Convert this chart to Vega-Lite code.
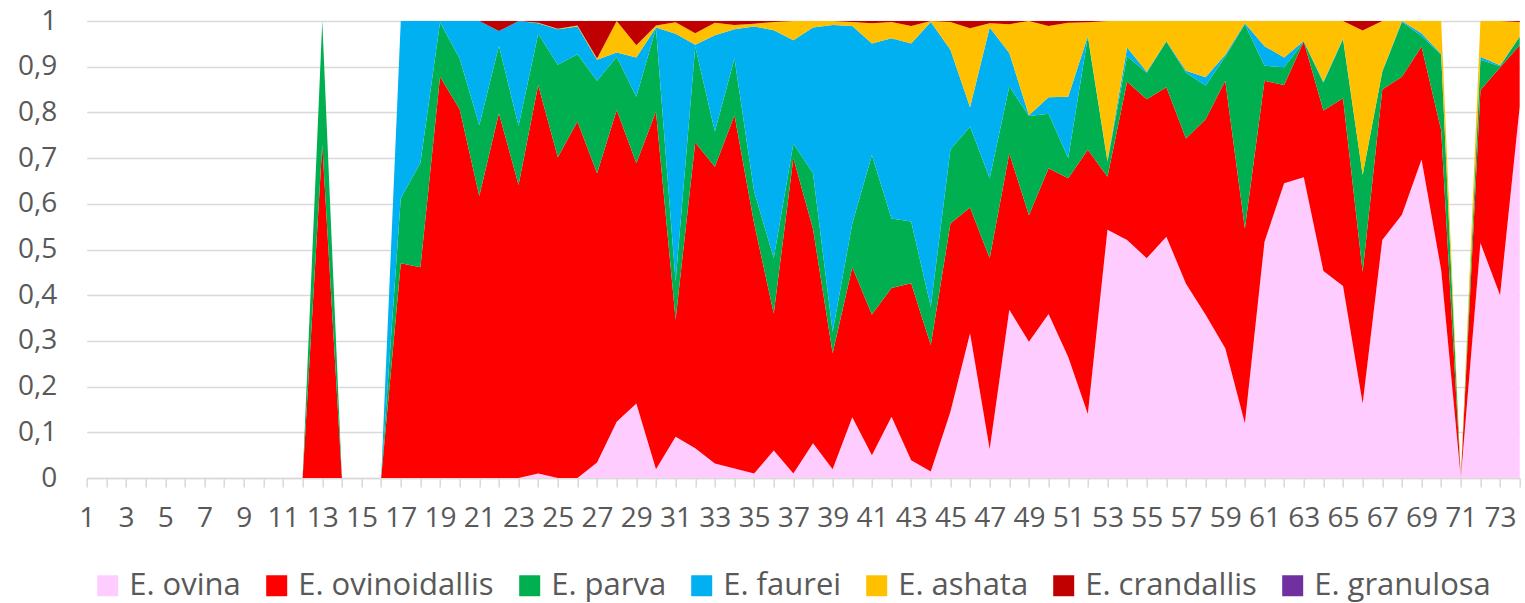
{
  "$schema": "https://vega.github.io/schema/vega-lite/v6.json",
  "width": 1433,
  "height": 457,
  "autosize": {"type": "none"},
  "padding": {"left": 86.7, "top": 21, "right": 5.3, "bottom": 125},
  "background": "white",
  "datasets": {
    "species": [
      {"key": "a", "sp": "E. ovina", "k": 1},
      {"key": "b", "sp": "E. ovinoidallis", "k": 2},
      {"key": "c", "sp": "E. parva", "k": 3},
      {"key": "d", "sp": "E. faurei", "k": 4},
      {"key": "e", "sp": "E. ashata", "k": 5},
      {"key": "f", "sp": "E. crandallis", "k": 6},
      {"key": "g", "sp": "E. granulosa", "k": 7}
    ],
    "rows": [
      {"x": 1, "a": 0, "b": 0, "c": 0, "d": 0, "e": 0, "f": 0, "g": 0},
      {"x": 2, "a": 0, "b": 0, "c": 0, "d": 0, "e": 0, "f": 0, "g": 0},
      {"x": 3, "a": 0, "b": 0, "c": 0, "d": 0, "e": 0, "f": 0, "g": 0},
      {"x": 4, "a": 0, "b": 0, "c": 0, "d": 0, "e": 0, "f": 0, "g": 0},
      {"x": 5, "a": 0, "b": 0, "c": 0, "d": 0, "e": 0, "f": 0, "g": 0},
      {"x": 6, "a": 0, "b": 0, "c": 0, "d": 0, "e": 0, "f": 0, "g": 0},
      {"x": 7, "a": 0, "b": 0, "c": 0, "d": 0, "e": 0, "f": 0, "g": 0},
      {"x": 8, "a": 0, "b": 0, "c": 0, "d": 0, "e": 0, "f": 0, "g": 0},
      {"x": 9, "a": 0, "b": 0, "c": 0, "d": 0, "e": 0, "f": 0, "g": 0},
      {"x": 10, "a": 0, "b": 0, "c": 0, "d": 0, "e": 0, "f": 0, "g": 0},
      {"x": 11, "a": 0, "b": 0, "c": 0, "d": 0, "e": 0, "f": 0, "g": 0},
      {"x": 12, "a": 0, "b": 0, "c": 0, "d": 0, "e": 0, "f": 0, "g": 0},
      {"x": 13, "a": 0, "b": 0.73, "c": 0.27, "d": 0, "e": 0, "f": 0, "g": 0},
      {"x": 14, "a": 0, "b": 0, "c": 0, "d": 0, "e": 0, "f": 0, "g": 0},
      {"x": 15, "a": 0, "b": 0, "c": 0, "d": 0, "e": 0, "f": 0, "g": 0},
      {"x": 16, "a": 0, "b": 0, "c": 0, "d": 0, "e": 0, "f": 0, "g": 0},
      {"x": 17, "a": 0, "b": 0.47, "c": 0.142, "d": 0.388, "e": 0, "f": 0, "g": 0},
      {"x": 18, "a": 0, "b": 0.461, "c": 0.229, "d": 0.31, "e": 0, "f": 0, "g": 0},
      {"x": 19, "a": 0, "b": 0.878, "c": 0.119, "d": 0.003, "e": 0, "f": 0, "g": 0},
      {"x": 20, "a": 0, "b": 0.807, "c": 0.111, "d": 0.082, "e": 0, "f": 0, "g": 0},
      {"x": 21, "a": 0, "b": 0.617, "c": 0.155, "d": 0.228, "e": 0, "f": 0, "g": 0},
      {"x": 22, "a": 0, "b": 0.798, "c": 0.148, "d": 0.032, "e": 0, "f": 0.022, "g": 0},
      {"x": 23, "a": 0, "b": 0.641, "c": 0.129, "d": 0.23, "e": 0, "f": 0, "g": 0},
      {"x": 24, "a": 0.01, "b": 0.85, "c": 0.112, "d": 0.023, "e": 0.001, "f": 0.004, "g": 0},
      {"x": 25, "a": 0, "b": 0.702, "c": 0.202, "d": 0.078, "e": 0.001, "f": 0.017, "g": 0},
      {"x": 26, "a": 0, "b": 0.78, "c": 0.147, "d": 0.061, "e": 0.002, "f": 0.01, "g": 0},
      {"x": 27, "a": 0.034, "b": 0.633, "c": 0.202, "d": 0.046, "e": 0.003, "f": 0.082, "g": 0},
      {"x": 28, "a": 0.123, "b": 0.682, "c": 0.117, "d": 0.009, "e": 0.069, "f": 0, "g": 0},
      {"x": 29, "a": 0.163, "b": 0.526, "c": 0.145, "d": 0.086, "e": 0.027, "f": 0.053, "g": 0},
      {"x": 30, "a": 0.019, "b": 0.783, "c": 0.182, "d": 0.002, "e": 0.004, "f": 0.01, "g": 0},
      {"x": 31, "a": 0.09, "b": 0.257, "c": 0.083, "d": 0.542, "e": 0.025, "f": 0.003, "g": 0},
      {"x": 32, "a": 0.065, "b": 0.669, "c": 0.21, "d": 0.004, "e": 0.025, "f": 0.027, "g": 0},
      {"x": 33, "a": 0.032, "b": 0.649, "c": 0.077, "d": 0.211, "e": 0.027, "f": 0.004, "g": 0},
      {"x": 34, "a": 0.021, "b": 0.773, "c": 0.124, "d": 0.064, "e": 0.009, "f": 0.009, "g": 0},
      {"x": 35, "a": 0.01, "b": 0.547, "c": 0.07, "d": 0.361, "e": 0.006, "f": 0.006, "g": 0},
      {"x": 36, "a": 0.06, "b": 0.3, "c": 0.121, "d": 0.499, "e": 0.018, "f": 0.002, "g": 0},
      {"x": 37, "a": 0.01, "b": 0.69, "c": 0.032, "d": 0.226, "e": 0.042, "f": 0, "g": 0},
      {"x": 38, "a": 0.076, "b": 0.469, "c": 0.122, "d": 0.319, "e": 0.014, "f": 0, "g": 0},
      {"x": 39, "a": 0.019, "b": 0.254, "c": 0.047, "d": 0.671, "e": 0.009, "f": 0, "g": 0},
      {"x": 40, "a": 0.133, "b": 0.328, "c": 0.096, "d": 0.432, "e": 0.009, "f": 0.002, "g": 0},
      {"x": 41, "a": 0.05, "b": 0.308, "c": 0.349, "d": 0.244, "e": 0.044, "f": 0.005, "g": 0},
      {"x": 42, "a": 0.134, "b": 0.282, "c": 0.152, "d": 0.394, "e": 0.036, "f": 0.002, "g": 0},
      {"x": 43, "a": 0.039, "b": 0.387, "c": 0.135, "d": 0.39, "e": 0.038, "f": 0.011, "g": 0},
      {"x": 44, "a": 0.014, "b": 0.277, "c": 0.084, "d": 0.623, "e": 0.002, "f": 0, "g": 0},
      {"x": 45, "a": 0.145, "b": 0.412, "c": 0.162, "d": 0.218, "e": 0.061, "f": 0.002, "g": 0},
      {"x": 46, "a": 0.317, "b": 0.275, "c": 0.177, "d": 0.042, "e": 0.173, "f": 0.016, "g": 0},
      {"x": 47, "a": 0.063, "b": 0.418, "c": 0.175, "d": 0.33, "e": 0.009, "f": 0.005, "g": 0},
      {"x": 48, "a": 0.368, "b": 0.342, "c": 0.147, "d": 0.073, "e": 0.063, "f": 0.007, "g": 0},
      {"x": 49, "a": 0.298, "b": 0.277, "c": 0.217, "d": 0.002, "e": 0.206, "f": 0, "g": 0},
      {"x": 50, "a": 0.359, "b": 0.319, "c": 0.119, "d": 0.036, "e": 0.156, "f": 0.011, "g": 0},
      {"x": 51, "a": 0.265, "b": 0.391, "c": 0.044, "d": 0.134, "e": 0.162, "f": 0.004, "g": 0},
      {"x": 52, "a": 0.14, "b": 0.578, "c": 0.248, "d": 0.001, "e": 0.03, "f": 0.003, "g": 0},
      {"x": 53, "a": 0.543, "b": 0.116, "c": 0.033, "d": 0.002, "e": 0.306, "f": 0, "g": 0},
      {"x": 54, "a": 0.521, "b": 0.346, "c": 0.056, "d": 0.019, "e": 0.058, "f": 0, "g": 0},
      {"x": 55, "a": 0.481, "b": 0.348, "c": 0.058, "d": 0.002, "e": 0.111, "f": 0, "g": 0},
      {"x": 56, "a": 0.528, "b": 0.327, "c": 0.1, "d": 0.001, "e": 0.044, "f": 0, "g": 0},
      {"x": 57, "a": 0.425, "b": 0.318, "c": 0.144, "d": 0.004, "e": 0.109, "f": 0, "g": 0},
      {"x": 58, "a": 0.357, "b": 0.428, "c": 0.074, "d": 0.018, "e": 0.123, "f": 0, "g": 0},
      {"x": 59, "a": 0.284, "b": 0.585, "c": 0.053, "d": 0.004, "e": 0.074, "f": 0, "g": 0},
      {"x": 60, "a": 0.12, "b": 0.426, "c": 0.447, "d": 0.002, "e": 0.005, "f": 0, "g": 0},
      {"x": 61, "a": 0.517, "b": 0.352, "c": 0.033, "d": 0.043, "e": 0.055, "f": 0, "g": 0},
      {"x": 62, "a": 0.645, "b": 0.215, "c": 0.039, "d": 0.021, "e": 0.08, "f": 0, "g": 0},
      {"x": 63, "a": 0.658, "b": 0.297, "c": 0, "d": 0.001, "e": 0.044, "f": 0, "g": 0},
      {"x": 64, "a": 0.453, "b": 0.351, "c": 0.061, "d": 0.002, "e": 0.133, "f": 0, "g": 0},
      {"x": 65, "a": 0.42, "b": 0.411, "c": 0.129, "d": 0.002, "e": 0.038, "f": 0, "g": 0},
      {"x": 66, "a": 0.163, "b": 0.288, "c": 0.212, "d": 0, "e": 0.316, "f": 0.021, "g": 0},
      {"x": 67, "a": 0.521, "b": 0.329, "c": 0.039, "d": 0.001, "e": 0.11, "f": 0, "g": 0},
      {"x": 68, "a": 0.576, "b": 0.302, "c": 0.12, "d": 0.002, "e": 0, "f": 0, "g": 0},
      {"x": 69, "a": 0.697, "b": 0.247, "c": 0.023, "d": 0.006, "e": 0.027, "f": 0, "g": 0},
      {"x": 70, "a": 0.455, "b": 0.306, "c": 0.165, "d": 0.002, "e": 0.072, "f": 0, "g": 0},
      {"x": 71, "a": 0, "b": 0, "c": 0, "d": 0, "e": 0, "f": 0, "g": 0},
      {"x": 72, "a": 0.514, "b": 0.335, "c": 0.066, "d": 0.007, "e": 0.078, "f": 0, "g": 0},
      {"x": 73, "a": 0.4, "b": 0.498, "c": 0.003, "d": 0.002, "e": 0.097, "f": 0, "g": 0},
      {"x": 74, "a": 0.813, "b": 0.134, "c": 0.019, "d": 0, "e": 0.032, "f": 0.002, "g": 0}
    ]
  },
  "data": {"name": "rows"},
  "transform": [
    {"fold": ["a", "b", "c", "d", "e", "f", "g"], "as": ["key", "v"]},
    {"lookup": "key", "from": {"data": {"name": "species"}, "key": "key", "fields": ["sp", "k"]}}
  ],
  "mark": {"type": "area", "interpolate": "linear", "strokeWidth": 0},
  "encoding": {
    "x": {
      "field": "x", "type": "quantitative",
      "scale": {"domain": [1, 74], "nice": false, "zero": false},
      "axis": {
        "title": null,
        "values": [1,2,3,4,5,6,7,8,9,10,11,12,13,14,15,16,17,18,19,20,21,22,23,24,25,26,27,28,29,30,31,32,33,34,35,36,37,38,39,40,41,42,43,44,45,46,47,48,49,50,51,52,53,54,55,56,57,58,59,60,61,62,63,64,65,66,67,68,69,70,71,72,73,74],
        "labelExpr": "datum.value % 2 == 1 ? datum.label : ''",
        "grid": false,
        "tickSize": 9, "tickWidth": 1.5, "tickColor": "#d9d9d9",
        "domainColor": "#d9d9d9", "domainWidth": 1.5,
        "labelFont": "Open Sans", "labelFontSize": 28, "labelColor": "#595959",
        "labelPadding": 17, "labelOverlap": false, "labelFlush": false
      }
    },
    "y": {
      "field": "v", "type": "quantitative", "stack": "zero",
      "scale": {"domain": [0, 1], "nice": false},
      "axis": {
        "title": null,
        "values": [0, 0.1, 0.2, 0.3, 0.4, 0.5, 0.6, 0.7, 0.8, 0.9, 1],
        "labelExpr": "replace(format(datum.value, '.1~f'), '.', ',')",
        "ticks": false, "domain": false,
        "grid": true, "gridColor": "#d9d9d9", "gridWidth": 1.5,
        "labelFont": "Open Sans", "labelFontSize": 28, "labelColor": "#595959",
        "labelPadding": 30
      }
    },
    "color": {
      "field": "sp", "type": "nominal",
      "scale": {
        "domain": ["E. ovina", "E. ovinoidallis", "E. parva", "E. faurei", "E. ashata", "E. crandallis", "E. granulosa"],
        "range": ["#FFCCFF", "#FF0000", "#00B050", "#00B0F0", "#FFC000", "#C00000", "#7030A0"]
      },
      "legend": {
        "title": null, "orient": "none", "direction": "horizontal",
        "legendX": 5.5, "legendY": 549,
        "symbolType": "square", "symbolSize": 441, "symbolStrokeWidth": 0, "symbolOpacity": 1,
        "labelFont": "Open Sans", "labelFontSize": 31, "labelColor": "#595959",
        "labelLimit": 400, "labelOffset": 6, "columnPadding": 20
      }
    },
    "order": {"field": "k", "type": "quantitative", "sort": "ascending"}
  },
  "config": {"view": {"stroke": null}}
}
